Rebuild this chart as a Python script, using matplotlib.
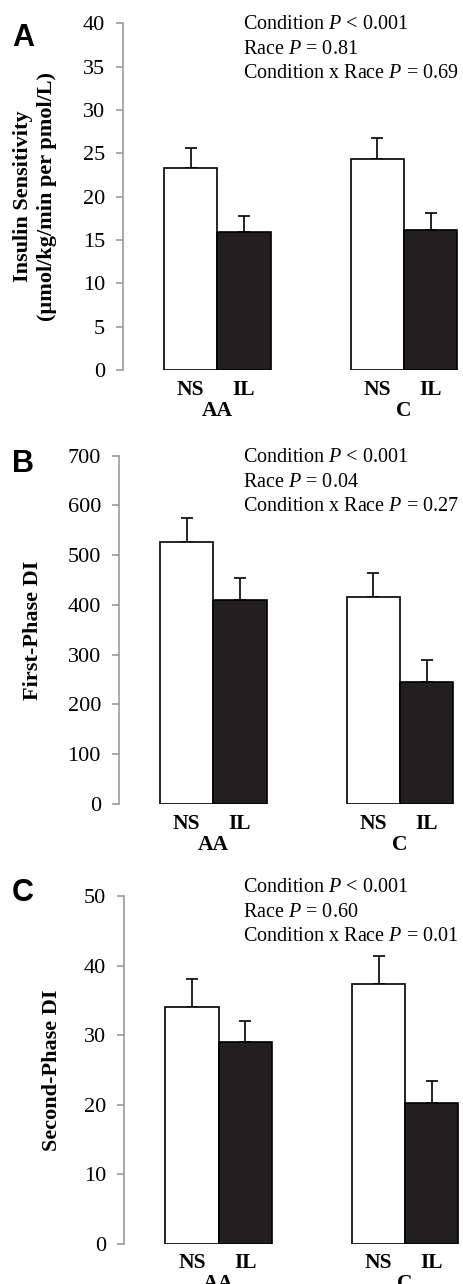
import matplotlib
matplotlib.use('Agg')
import matplotlib.pyplot as plt

plt.rcParams['font.family'] = ['Liberation Serif', 'DejaVu Serif']
plt.rcParams['mathtext.fontset'] = 'custom'
plt.rcParams['mathtext.rm'] = 'Liberation Serif'
plt.rcParams['mathtext.it'] = 'Liberation Serif:italic'

# data
groups = ['AA', 'C']
conditions = ['NS', 'IL']

# insulin sensitivity
si_mean = {'NS': [23.3, 24.4], 'IL': [15.9, 16.2]}
si_sem = {'NS': [2.35, 2.4], 'IL': [1.9, 1.9]}
si_stats = ['Condition $P$ < 0.001', 'Race $P$ = 0.81', 'Condition x Race $P$ = 0.69']

# first-phase disposition index
di1_mean = {'NS': [527, 417], 'IL': [410, 245]}
di1_sem = {'NS': [47, 48], 'IL': [44, 45]}
di1_stats = ['Condition $P$ < 0.001', 'Race $P$ = 0.04', 'Condition x Race $P$ = 0.27']

# second-phase disposition index
di2_mean = {'NS': [34.0, 37.4], 'IL': [29.0, 20.2]}
di2_sem = {'NS': [4.0, 4.0], 'IL': [3.05, 3.15]}
di2_stats = ['Condition $P$ < 0.001', 'Race $P$ = 0.60', 'Condition x Race $P$ = 0.01']

W, H = 463, 1284
fig = plt.figure(figsize=(W / 100, H / 100), dpi=100)

bar_px = 53.3
centers = {'NS': [1.27, 4.77], 'IL': [2.27, 5.77]}
group_x = [1.77, 5.27]
colors = {'NS': 'white', 'IL': '#231f20'}
axis_grey = '#9a9a9a'

panels = [
    # letter, left px, y0 px, ytop px, ymax, step, label, label x, mean, sem, stats, letter top, stats baseline
    ('A', 123, 370, 23.3, 40, 5, 'Insulin Sensitivity\n(µmol/kg/min per pmol/L)', 35,
     si_mean, si_sem, si_stats, 23, 29.4),
    ('B', 119, 804, 455.7, 700, 100, 'First-Phase DI', 32.5,
     di1_mean, di1_sem, di1_stats, 449, 462.4),
    ('C', 124.3, 1243.7, 896, 50, 10, 'Second-Phase DI', 51.7,
     di2_mean, di2_sem, di2_stats, 878, 892.4),
]

for (letter, left, y0, ytop, ymax, step, ylabel, lab_x,
     means, sems, stats, let_top, st_base) in panels:
    ax = fig.add_axes([left / W, 1 - y0 / H, (W - left) / W, (y0 - ytop) / H])
    ax.set_xlim(0, (W - left) / bar_px)
    ax.set_ylim(0, ymax)
    for c in conditions:
        ax.bar(centers[c], means[c], width=1.0, color=colors[c],
               edgecolor='black', linewidth=1.2, zorder=2)
        ax.errorbar(centers[c], means[c], yerr=[[0, 0], sems[c]], fmt='none',
                    ecolor='black', elinewidth=1.2, capsize=4.5, capthick=1.2, zorder=1)

    ax.set_yticks(range(0, ymax + 1, step))
    ax.tick_params(axis='y', direction='out', length=5, width=1.2, color=axis_grey,
                   pad=8, labelsize=16)
    xt = sorted(centers['NS'] + centers['IL'])
    ax.set_xticks(xt, ['NS', 'IL', 'NS', 'IL'], fontweight='bold', fontsize=15.5)
    ax.tick_params(axis='x', length=0, pad=7)
    for g, xc in zip(groups, group_x):
        ax.annotate(g, xy=(xc, 0), xycoords=('data', 'axes fraction'),
                    xytext=(0, -22), textcoords='offset points', ha='center', va='top',
                    fontweight='bold', fontsize=15.5)

    for s in ['top', 'right', 'bottom']:
        ax.spines[s].set_visible(False)
    ax.spines['left'].set_color(axis_grey)
    ax.spines['left'].set_linewidth(1.2)
    ax.patch.set_alpha(0)

    fig.text(lab_x / W, 1 - (y0 + ytop) / 2 / H, ylabel, rotation=90, ha='center',
             va='center', fontweight='bold', fontsize=16, multialignment='center',
             linespacing=1.3)
    fig.text(12 / W, 1 - let_top / H, letter, family='Liberation Sans', fontweight='bold',
             fontsize=22, ha='left', va='top')
    for i, s in enumerate(stats):
        fig.text(243 / W, 1 - (st_base + 24.5 * i) / H, s, ha='left', va='baseline',
                 fontsize=14.5)

fig.savefig('out.png', dpi=100)
